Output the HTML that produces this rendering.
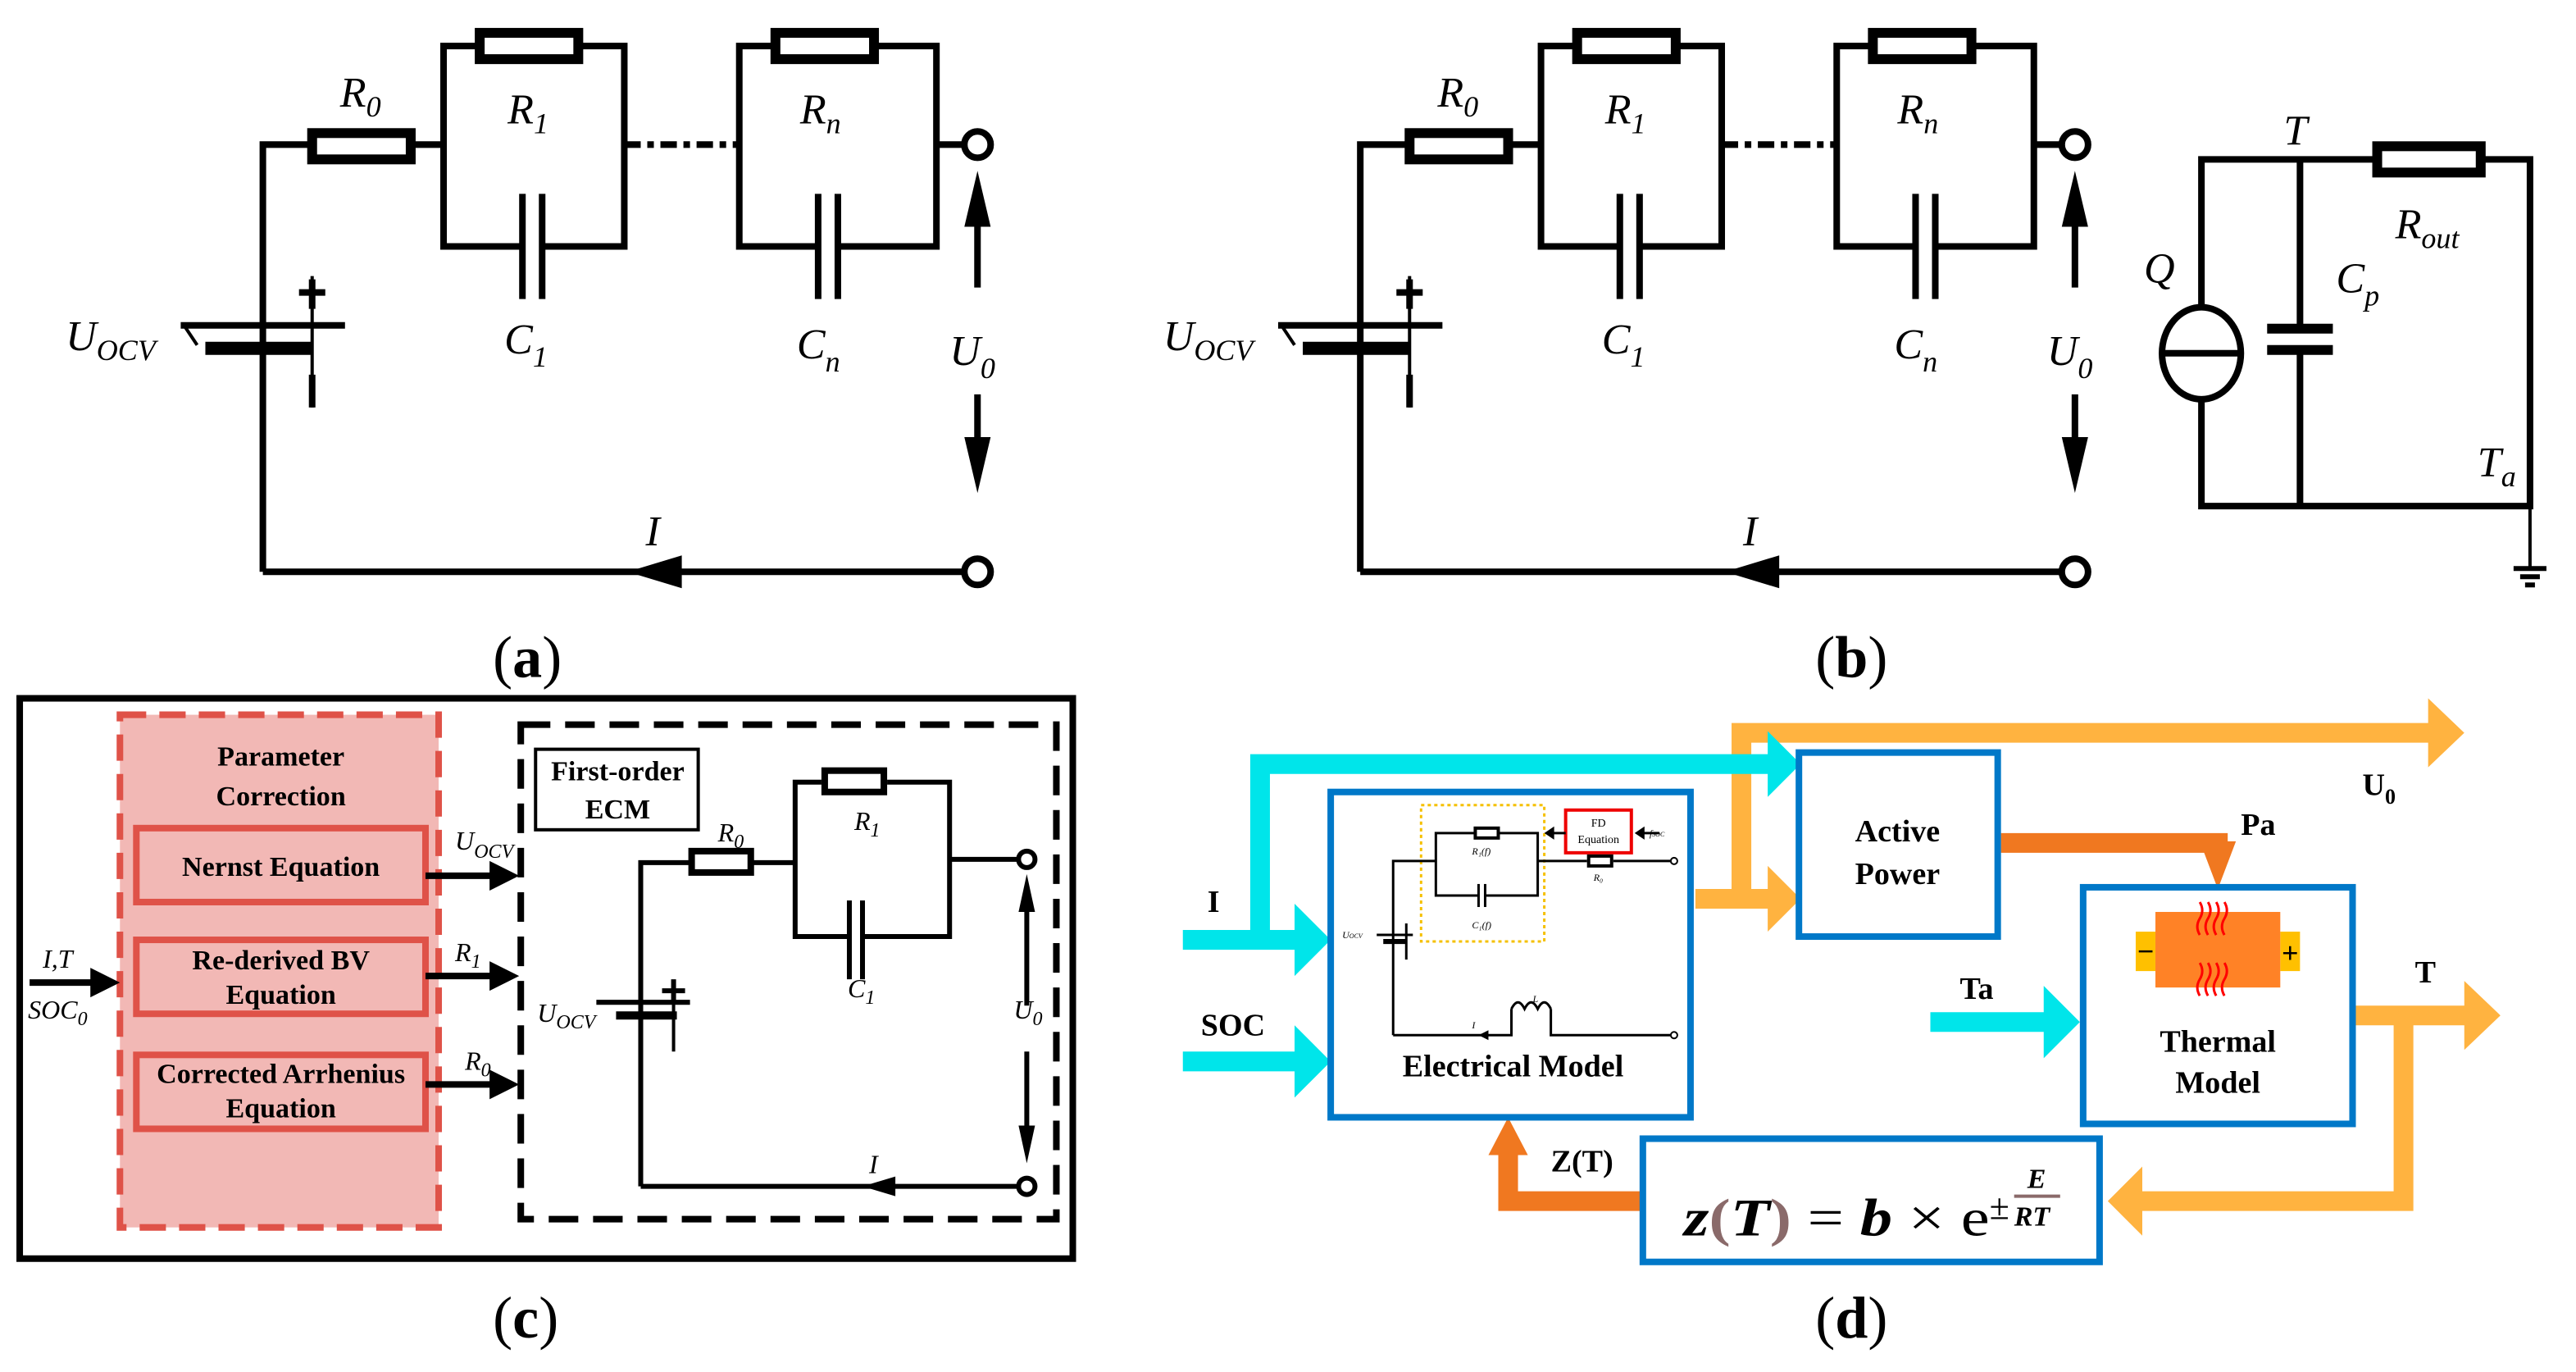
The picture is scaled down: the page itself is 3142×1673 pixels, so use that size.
<!DOCTYPE html>
<html><head><meta charset="utf-8"><style>
html,body{margin:0;padding:0;background:#fff}
svg{display:block}
text{font-family:"Liberation Serif",serif}
.it{font-style:italic}
.b{font-weight:bold}
</style></head><body>
<svg width="3142" height="1673" viewBox="0 0 1568 835" preserveAspectRatio="none" xmlns="http://www.w3.org/2000/svg">
<defs>
<g id="ecm">
 <g fill="none" stroke="#000" stroke-width="4">
  <polyline points="160,348 160,88 188,88"/>
  <line x1="252" y1="88" x2="270" y2="88"/>
  <polyline points="290,28 270,28 270,150 318,150"/>
  <polyline points="354,28 380,28 380,150 330,150"/>
  <polyline points="470,28 450,28 450,150 498,150"/>
  <polyline points="534,28 570,28 570,150 510,150"/>
  <line x1="570" y1="88" x2="586" y2="88"/>
  <line x1="160" y1="348" x2="586" y2="348"/>
  <line x1="595" y1="125" x2="595" y2="175"/>
  <line x1="595" y1="240" x2="595" y2="275"/>
 </g>
 <line x1="380" y1="88" x2="450" y2="88" stroke="#000" stroke-width="4" stroke-dasharray="10,4,4,4"/>
 <rect x="190" y="81" width="60" height="16" fill="#fff" stroke="#000" stroke-width="6"/>
 <rect x="292" y="20" width="60" height="16" fill="#fff" stroke="#000" stroke-width="6"/>
 <rect x="472" y="20" width="60" height="16" fill="#fff" stroke="#000" stroke-width="6"/>
 <g stroke="#000" stroke-width="4">
  <line x1="318" y1="118" x2="318" y2="182"/><line x1="330" y1="118" x2="330" y2="182"/>
  <line x1="498" y1="118" x2="498" y2="182"/><line x1="510" y1="118" x2="510" y2="182"/>
  <line x1="110" y1="198" x2="210" y2="198"/>
  <line x1="125" y1="212" x2="190" y2="212" stroke-width="8"/>
  <line x1="112" y1="198" x2="120" y2="210" stroke-width="2"/>
  <line x1="190" y1="168" x2="190" y2="248" stroke-width="2"/>
  <line x1="182" y1="178" x2="198" y2="178"/><line x1="190" y1="170" x2="190" y2="188"/>
  <line x1="190" y1="228" x2="190" y2="248" stroke-width="4"/>
 </g>
 <circle cx="595" cy="88" r="8" fill="#fff" stroke="#000" stroke-width="4"/>
 <circle cx="595" cy="348" r="8" fill="#fff" stroke="#000" stroke-width="4"/>
 <polygon points="595,104 587,138 603,138"/>
 <polygon points="595,300 587,266 603,266"/>
 <polygon points="382,348 415,338 415,358"/>
 <g class="it" font-size="26">
  <text x="207" y="65">R<tspan font-size="18" dy="6">0</tspan></text>
  <text x="309" y="75">R<tspan font-size="18" dy="6">1</tspan></text>
  <text x="487" y="75">R<tspan font-size="18" dy="6">n</tspan></text>
  <text x="307" y="215">C<tspan font-size="18" dy="8">1</tspan></text>
  <text x="485" y="218">C<tspan font-size="18" dy="8">n</tspan></text>
  <text x="578" y="222">U<tspan font-size="18" dy="8">0</tspan></text>
  <text x="40" y="213">U<tspan font-size="18" dy="6">OCV</tspan></text>
  <text x="393" y="332">I</text>
 </g>
</g>
</defs>

<use href="#ecm"/>
<text x="300" y="412" font-size="36">(<tspan class="b">a</tspan>)</text>
<use href="#ecm" transform="translate(668,0)"/>
<text x="1105" y="412" font-size="36">(<tspan class="b">b</tspan>)</text>
<g fill="none" stroke="#000" stroke-width="4">
 <polyline points="1340,188 1340,97 1445,97"/>
 <polyline points="1512,97 1540,97 1540,308 1340,308 1340,242"/>
 <line x1="1400" y1="97" x2="1400" y2="199"/>
 <line x1="1400" y1="214" x2="1400" y2="308"/>
 <ellipse cx="1340" cy="215" rx="24" ry="28"/>
 <line x1="1316" y1="215" x2="1364" y2="215"/>
 <line x1="1380" y1="200" x2="1420" y2="200" stroke-width="6"/>
 <line x1="1380" y1="213" x2="1420" y2="213" stroke-width="6"/>
 <line x1="1540" y1="308" x2="1540" y2="345" stroke-width="2"/>
 <line x1="1530" y1="346" x2="1550" y2="346" stroke-width="3"/>
 <line x1="1534" y1="351" x2="1546" y2="351" stroke-width="3"/>
 <line x1="1537" y1="356" x2="1543" y2="356" stroke-width="3"/>
</g>
<rect x="1447" y="89" width="63" height="16" fill="#fff" stroke="#000" stroke-width="6"/>
<g class="it" font-size="26">
 <text x="1390" y="88">T</text>
 <text x="1305" y="172">Q</text>
 <text x="1422" y="178">C<tspan font-size="18" dy="8">p</tspan></text>
 <text x="1458" y="145">R<tspan font-size="18" dy="6">out</tspan></text>
 <text x="1508" y="290">T<tspan font-size="18" dy="6">a</tspan></text>
</g>

<rect x="12" y="425" width="641" height="341" fill="none" stroke="#000" stroke-width="4"/>
<rect x="73" y="435" width="194" height="312" fill="#f2b8b5" stroke="#df5248" stroke-width="4" stroke-dasharray="16,8"/>
<g fill="none" stroke="#df5248" stroke-width="4">
 <rect x="83" y="504" width="176" height="45"/>
 <rect x="83" y="572" width="176" height="45"/>
 <rect x="83" y="642" width="176" height="45"/>
</g>
<g class="b" font-size="17" text-anchor="middle">
 <text x="171" y="466">Parameter</text>
 <text x="171" y="490">Correction</text>
 <text x="171" y="533">Nernst Equation</text>
 <text x="171" y="590">Re-derived BV</text>
 <text x="171" y="611">Equation</text>
 <text x="171" y="659">Corrected Arrhenius</text>
 <text x="171" y="680">Equation</text>
</g>
<g stroke="#000" stroke-width="4">
 <line x1="259" y1="533" x2="300" y2="533"/><line x1="259" y1="594" x2="300" y2="594"/><line x1="259" y1="660" x2="300" y2="660"/>
 <line x1="18" y1="598" x2="58" y2="598"/>
</g>
<polygon points="316,533 298,524 298,542"/><polygon points="316,594 298,585 298,603"/><polygon points="316,660 298,651 298,669"/>
<polygon points="73,598 55,589 55,607"/>
<g class="it" font-size="16">
 <text x="277" y="517">U<tspan font-size="12" dy="5">OCV</tspan></text>
 <text x="277" y="585">R<tspan font-size="12" dy="4">1</tspan></text>
 <text x="283" y="651">R<tspan font-size="12" dy="4">0</tspan></text>
 <text x="26" y="589">I,T</text>
 <text x="17" y="620">SOC<tspan font-size="12" dy="4">0</tspan></text>
</g>
<rect x="317" y="441" width="326" height="301" fill="none" stroke="#000" stroke-width="4" stroke-dasharray="18,9"/>
<rect x="326" y="456" width="99" height="49" fill="#fff" stroke="#000" stroke-width="2"/>
<text x="376" y="475" class="b" font-size="17" text-anchor="middle">First-order</text>
<text x="376" y="498" class="b" font-size="17" text-anchor="middle">ECM</text>
<g fill="none" stroke="#000" stroke-width="3">
 <polyline points="390,722 390,525 420,525"/>
 <line x1="458" y1="525" x2="484" y2="525"/>
 <polyline points="500,476 484,476 484,570 517,570"/>
 <polyline points="540,476 578,476 578,570 525,570"/>
 <line x1="578" y1="523" x2="619" y2="523"/>
 <line x1="390" y1="722" x2="619" y2="722"/>
 <line x1="625" y1="555" x2="625" y2="612"/>
 <line x1="625" y1="640" x2="625" y2="690"/>
 <line x1="517" y1="548" x2="517" y2="596"/><line x1="525" y1="548" x2="525" y2="596"/>
 <line x1="363" y1="610" x2="420" y2="610"/>
 <line x1="375" y1="618" x2="412" y2="618" stroke-width="5"/>
 <line x1="410" y1="600" x2="410" y2="640" stroke-width="2"/>
 <line x1="403" y1="603" x2="417" y2="603"/><line x1="410" y1="596" x2="410" y2="610"/>
</g>
<rect x="421" y="518" width="36" height="13" fill="#fff" stroke="#000" stroke-width="4"/>
<rect x="502" y="469" width="36" height="13" fill="#fff" stroke="#000" stroke-width="4"/>
<circle cx="625" cy="523" r="5" fill="#fff" stroke="#000" stroke-width="3"/>
<circle cx="625" cy="722" r="5" fill="#fff" stroke="#000" stroke-width="3"/>
<polygon points="625,532 620,555 630,555"/><polygon points="625,708 620,685 630,685"/>
<polygon points="525,722 545,716 545,728"/>
<g class="it" font-size="16">
 <text x="437" y="512">R<tspan font-size="12" dy="4">0</tspan></text>
 <text x="520" y="505">R<tspan font-size="12" dy="4">1</tspan></text>
 <text x="516" y="607">C<tspan font-size="12" dy="4">1</tspan></text>
 <text x="617" y="620">U<tspan font-size="12" dy="4">0</tspan></text>
 <text x="327" y="622">U<tspan font-size="12" dy="4">OCV</tspan></text>
 <text x="529" y="714">I</text>
</g>
<text x="300" y="814" font-size="36">(<tspan class="b">c</tspan>)</text>

<g fill="none" stroke-linejoin="miter">
 <polyline points="1060,547 1060,446 1482,446" stroke="#ffb340" stroke-width="12"/>
 <polyline points="1032,547 1078,547" stroke="#ffb340" stroke-width="12"/>
 <polyline points="720,572 790,572" stroke="#00e5ea" stroke-width="12"/>
 <polyline points="767,572 767,465 1078,465" stroke="#00e5ea" stroke-width="12"/>
 <polyline points="720,646 790,646" stroke="#00e5ea" stroke-width="12"/>
 <polyline points="1175,622 1247,622" stroke="#00e5ea" stroke-width="12"/>
 <polyline points="1218,513 1350,513 1350,520" stroke="#f07820" stroke-width="12"/>
 <polyline points="1434,618 1502,618" stroke="#ffb340" stroke-width="12"/>
 <polyline points="1463,618 1463,731 1302,731" stroke="#ffb340" stroke-width="12"/>
 <polyline points="1000,731 918,731 918,700" stroke="#f07820" stroke-width="12"/>
</g>
<polygon points="1500,446 1478,425 1478,467" fill="#ffb340"/>
<polygon points="1096,547 1076,527 1076,567" fill="#ffb340"/>
<polygon points="1096,465 1076,445 1076,485" fill="#00e5ea"/>
<polygon points="810,572 788,550 788,594" fill="#00e5ea"/>
<polygon points="810,646 788,624 788,668" fill="#00e5ea"/>
<polygon points="1266,622 1244,600 1244,644" fill="#00e5ea"/>
<polygon points="1350,541 1339,512 1361,512" fill="#f07820"/>
<polygon points="1522,618 1500,597 1500,639" fill="#ffb340"/>
<polygon points="1283,731 1304,710 1304,752" fill="#ffb340"/>
<polygon points="918,680 906,703 930,703" fill="#f07820"/>
<g fill="none" stroke="#0078c8" stroke-width="4">
 <rect x="810" y="482" width="219" height="198"/>
 <rect x="1095" y="458" width="121" height="112"/>
 <rect x="1268" y="540" width="164" height="144"/>
 <rect x="1000" y="693" width="278" height="75"/>
</g>
<rect x="865" y="490" width="75" height="83" fill="none" stroke="#f5c000" stroke-width="1.5" stroke-dasharray="2,2"/>
<rect x="953" y="493" width="40" height="26" fill="#fff" stroke="#e00" stroke-width="2"/>
<text x="973" y="503" font-size="7" text-anchor="middle">FD</text>
<text x="973" y="513" font-size="7" text-anchor="middle">Equation</text>
<g fill="none" stroke="#000" stroke-width="1.5">
 <polyline points="848,630 848,524 874,524"/>
 <polyline points="898,507 874,507 874,545 900,545"/>
 <polyline points="904,507 936,507 936,545 904,545"/>
 <line x1="900" y1="538" x2="900" y2="552"/><line x1="904" y1="538" x2="904" y2="552"/>
 <line x1="936" y1="524" x2="966" y2="524"/><line x1="982" y1="524" x2="1017" y2="524"/>
 <line x1="838" y1="569" x2="860" y2="569"/><line x1="842" y1="573" x2="856" y2="573" stroke-width="3"/>
 <line x1="856" y1="562" x2="856" y2="584"/>
 <polyline points="848,630 920,630 920,614"/>
 <path d="M920,614 q4,-8 8,0 q4,-8 8,0 q4,-8 8,0"/>
 <polyline points="944,614 944,630 1017,630"/>
 <line x1="953" y1="507" x2="944" y2="507"/><line x1="1010" y1="507" x2="1000" y2="507"/>
</g>
<rect x="898" y="504" width="14" height="6" fill="#fff" stroke="#000" stroke-width="2"/>
<rect x="967" y="521" width="14" height="6" fill="#fff" stroke="#000" stroke-width="2"/>
<polygon points="940,507 946,503 946,511"/><polygon points="995,507 1001,503 1001,511"/>
<polygon points="900,630 906,627 906,633"/>
<circle cx="1019" cy="524" r="2" fill="#fff" stroke="#000"/><circle cx="1019" cy="630" r="2" fill="#fff" stroke="#000"/>
<g class="it" font-size="6">
 <text x="896" y="520">R₁(f)</text><text x="896" y="565">C₁(f)</text><text x="970" y="536">R₀</text>
 <text x="817" y="571">U<tspan font-size="4">OCV</tspan></text><text x="933" y="610">L</text><text x="896" y="626">I</text>
 <text x="1004" y="509">f<tspan font-size="4">SOC</tspan></text>
</g>
<rect x="1300" y="567" width="12" height="24" fill="#ffc000"/>
<rect x="1388" y="567" width="12" height="24" fill="#ffc000"/>
<rect x="1312" y="555" width="76" height="46" fill="#ff8226"/>
<text x="1306" y="585" class="b" font-size="18" text-anchor="middle">−</text>
<text x="1394" y="586" class="b" font-size="18" text-anchor="middle">+</text>
<g fill="none" stroke="#f00" stroke-width="1.5">
 <path d="M1339,569 q-3,-5 0,-10 q3,-5 0,-10"/><path d="M1344,569 q-3,-5 0,-10 q3,-5 0,-10"/><path d="M1349,569 q-3,-5 0,-10 q3,-5 0,-10"/><path d="M1354,569 q-3,-5 0,-10 q3,-5 0,-10"/>
 <path d="M1339,606 q-3,-5 0,-10 q3,-5 0,-10"/><path d="M1344,606 q-3,-5 0,-10 q3,-5 0,-10"/><path d="M1349,606 q-3,-5 0,-10 q3,-5 0,-10"/><path d="M1354,606 q-3,-5 0,-10 q3,-5 0,-10"/>
</g>
<g class="b" font-size="19">
 <text x="921" y="655" text-anchor="middle">Electrical Model</text>
 <text x="1155" y="512" text-anchor="middle">Active</text>
 <text x="1155" y="538" text-anchor="middle">Power</text>
 <text x="1350" y="640" text-anchor="middle">Thermal</text>
 <text x="1350" y="665" text-anchor="middle">Model</text>
 <text x="735" y="555">I</text>
 <text x="731" y="630">SOC</text>
 <text x="1438" y="484">U<tspan font-size="13" dy="5">0</tspan></text>
 <text x="1364" y="508">Pa</text>
 <text x="1193" y="608">Ta</text>
 <text x="1470" y="598">T</text>
 <text x="944" y="713">Z(T)</text>
</g>
<text x="1025" y="752" class="b it" font-size="32" textLength="186" lengthAdjust="spacingAndGlyphs">z<tspan fill="#8a6a6a" font-style="normal">(</tspan>T<tspan fill="#8a6a6a" font-style="normal">)</tspan><tspan font-style="normal" font-weight="normal"> = </tspan>b<tspan font-style="normal" font-weight="normal"> × e</tspan></text>
<text x="1211" y="742" font-size="22">±</text>
<text x="1234" y="723" class="b it" font-size="17">E</text>
<line x1="1226" y1="728" x2="1254" y2="728" stroke="#8a6a6a" stroke-width="2"/>
<text x="1226" y="746" class="b it" font-size="17">RT</text>
<text x="1105" y="814" font-size="36">(<tspan class="b">d</tspan>)</text>
</svg>
</body></html>
